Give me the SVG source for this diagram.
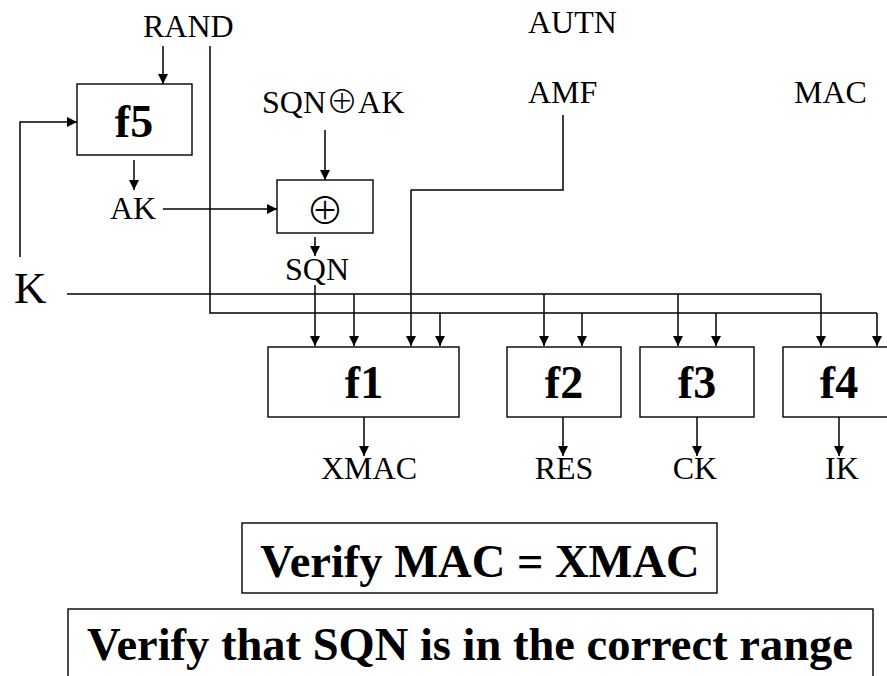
<svg xmlns="http://www.w3.org/2000/svg" width="887" height="676" viewBox="0 0 887 676">
<defs>
<marker id="ah" markerUnits="userSpaceOnUse" markerWidth="10" markerHeight="10" refX="10" refY="5" orient="auto"><path d="M0,0 L10,5 L0,10 z" fill="#000"/></marker>
<style>
.box{fill:#fff;stroke:#000;stroke-width:1.4}
.lbl{font-family:"Liberation Serif","Times New Roman",serif;font-size:32px;fill:#000}
.fn{font-family:"Liberation Serif","Times New Roman",serif;font-size:46px;font-weight:bold;fill:#000;text-anchor:middle}
.big{font-family:"Liberation Serif","Times New Roman",serif;font-size:46.5px;font-weight:bold;fill:#000}
.sym{font-family:"Noto Sans CJK JP","DejaVu Sans",sans-serif;font-weight:300}
.ln{fill:none;stroke:#000;stroke-width:1.5}
.ar{fill:none;stroke:#000;stroke-width:1.5;marker-end:url(#ah)}
</style>
</defs>
<rect width="887" height="676" fill="#fff"/>
<g id="connectors">
<path class="ar" d="M163,46 V84"/>
<path class="ar" d="M20,257 V122 H77"/>
<path class="ar" d="M134,160 V190"/>
<path class="ar" d="M163,209 H277"/>
<path class="ar" d="M325,130 V180"/>
<path class="ar" d="M315,237 V256"/>
<path class="ln" d="M67,294 H821"/>
<path class="ln" d="M210,46 V313 H877"/>
<path class="ln" d="M563,115 V190 H411"/>
<path class="ar" d="M315,285 V346"/>
<path class="ar" d="M354,294 V346"/>
<path class="ar" d="M411,190 V346"/>
<path class="ar" d="M440,313 V346"/>
<path class="ar" d="M544,294 V346"/>
<path class="ar" d="M582,313 V346"/>
<path class="ar" d="M678,294 V346"/>
<path class="ar" d="M716,313 V346"/>
<path class="ar" d="M821,294 V346"/>
<path class="ar" d="M877,313 V346"/>
<path class="ar" d="M364,417 V456"/>
<path class="ar" d="M563,417 V456"/>
<path class="ar" d="M697,417 V456"/>
<path class="ar" d="M839,417 V456"/>
</g>
<g id="labels">
<text class="lbl" x="143" y="37">RAND</text>
<text class="lbl" x="528" y="33">AUTN</text>
<text class="lbl" x="528" y="103">AMF</text>
<text class="lbl" x="794" y="103">MAC</text>
<text class="lbl" x="262" y="113">SQN<tspan class="sym" style="font-size:32px">⊕</tspan>AK</text>
<text class="lbl" x="110" y="219">AK</text>
<text class="lbl" x="285" y="280">SQN</text>
<text class="lbl" x="14" y="303" style="font-size:45px">K</text>
<text class="lbl" x="369" y="479" text-anchor="middle">XMAC</text>
<text class="lbl" x="564" y="479" text-anchor="middle">RES</text>
<text class="lbl" x="695" y="479" text-anchor="middle">CK</text>
<text class="lbl" x="842" y="479" text-anchor="middle">IK</text>
</g>
<g id="f5"><rect class="box" x="77" y="84" width="115" height="71"/><text class="fn" x="134" y="137">f5</text></g>
<g id="xor"><rect class="box" x="277" y="180" width="96" height="53"/><text class="lbl sym" x="325" y="224" text-anchor="middle" style="font-size:38px">⊕</text></g>
<g id="f1"><rect class="box" x="268" y="347" width="191" height="70"/><text class="fn" x="364" y="398">f1</text></g>
<g id="f2"><rect class="box" x="507" y="347" width="114" height="70"/><text class="fn" x="564" y="398">f2</text></g>
<g id="f3"><rect class="box" x="640" y="347" width="114" height="70"/><text class="fn" x="697" y="398">f3</text></g>
<g id="f4"><rect class="box" x="783" y="347" width="114" height="70"/><text class="fn" x="839" y="398">f4</text></g>
<g id="verify-mac"><rect class="box" x="242" y="523" width="475" height="70"/><text class="big" x="480" y="577" text-anchor="middle">Verify MAC = XMAC</text></g>
<g id="verify-sqn"><rect class="box" x="68" y="609" width="805" height="90"/><text class="big" x="470" y="660" text-anchor="middle">Verify that SQN is in the correct range</text></g>
</svg>
